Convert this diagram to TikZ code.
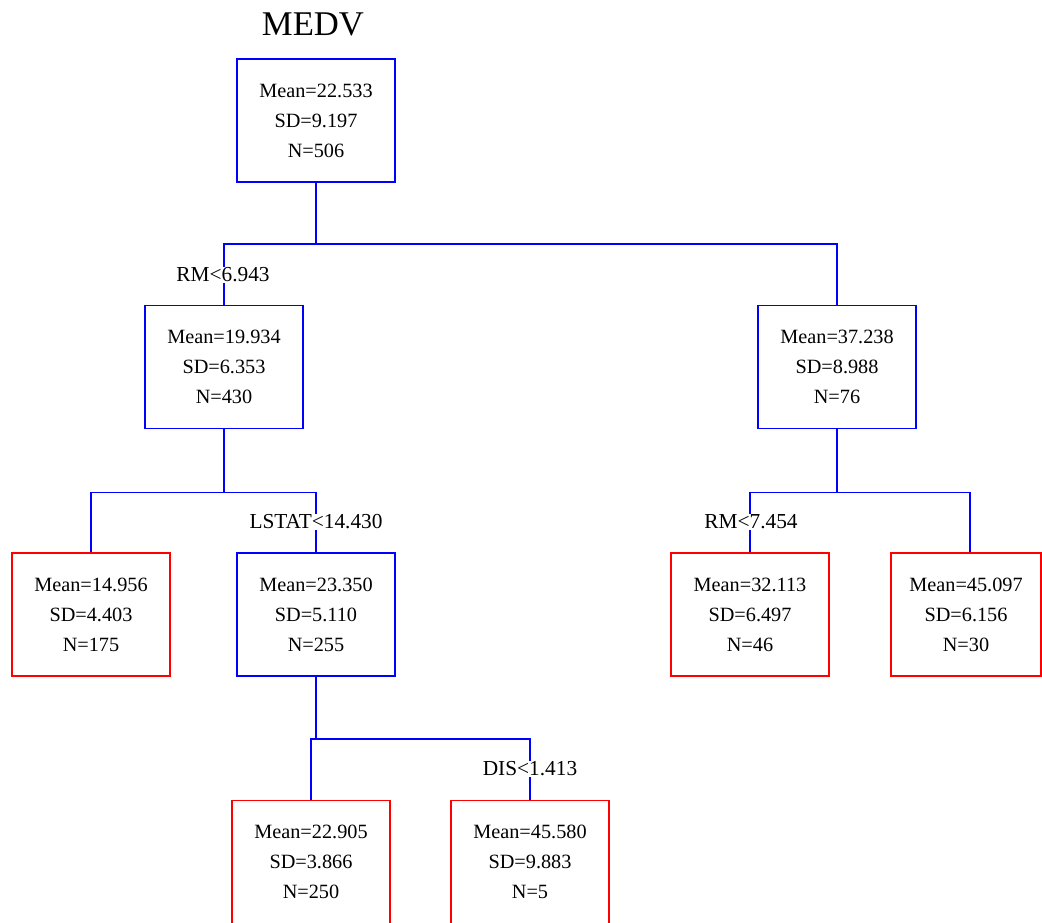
\documentclass[tikz,border=0pt]{standalone}
\usepackage{fontspec}
\setmainfont{Liberation Serif}
\begin{document}
\begin{tikzpicture}[x=0.75pt,y=-0.75pt,
  stat/.style={draw, line width=1.4pt, minimum width=118.5pt, minimum height=92.25pt,
    inner sep=0pt, align=center, font=\fontsize{15.2}{22.5}\selectfont},
  inner/.style={stat, draw=blue},
  leaf/.style={stat, draw=red},
  conn/.style={draw=blue, line width=1.4pt},
  cond/.style={fill=white, inner sep=0.5pt, font=\fontsize{16}{18}\selectfont}]
\useasboundingbox (0,0) rectangle (1042,922);
\clip (0,0) rectangle (1042,922);
\node[font=\fontsize{26}{30}\selectfont] (title) at (313,24) {MEDV};
\node[inner] (root) at (316,120.5) {Mean=22.533\\SD=9.197\\N=506};
\node[inner] (lc) at (224,367) {Mean=19.934\\SD=6.353\\N=430};
\node[inner] (rc) at (837,367) {Mean=37.238\\SD=8.988\\N=76};
\node[leaf] (llc) at (91,614.5) {Mean=14.956\\SD=4.403\\N=175};
\node[inner] (lrc) at (316,614.5) {Mean=23.350\\SD=5.110\\N=255};
\node[leaf] (rlc) at (750,614.5) {Mean=32.113\\SD=6.497\\N=46};
\node[leaf, minimum width=112.5pt] (rrc) at (966,614.5) {Mean=45.097\\SD=6.156\\N=30};
\node[leaf] (lrlc) at (311,862) {Mean=22.905\\SD=3.866\\N=250};
\node[leaf] (lrrc) at (530,862) {Mean=45.580\\SD=9.883\\N=5};
\draw[conn] (root.south) -- ++(0,61) -| (lc.north);
\draw[conn] (root.south) -- ++(0,61) -| (rc.north);
\draw[conn] (lc.south) -- ++(0,63) -| (llc.north);
\draw[conn] (lc.south) -- ++(0,63) -| (lrc.north);
\draw[conn] (rc.south) -- ++(0,63) -| (rlc.north);
\draw[conn] (rc.south) -- ++(0,63) -| ([xshift=3pt]rrc.north);
\draw[conn] (lrc.south) -- ++(0,62) -| (lrlc.north);
\draw[conn] (lrc.south) -- ++(0,62) -| (lrrc.north);
\node[cond] (c1) at (223,275) {RM<6.943};
\node[cond] (c2) at (316,522) {LSTAT<14.430};
\node[cond] (c3) at (751,522) {RM<7.454};
\node[cond] (c4) at (530,769) {DIS<1.413};
\end{tikzpicture}
\end{document}
